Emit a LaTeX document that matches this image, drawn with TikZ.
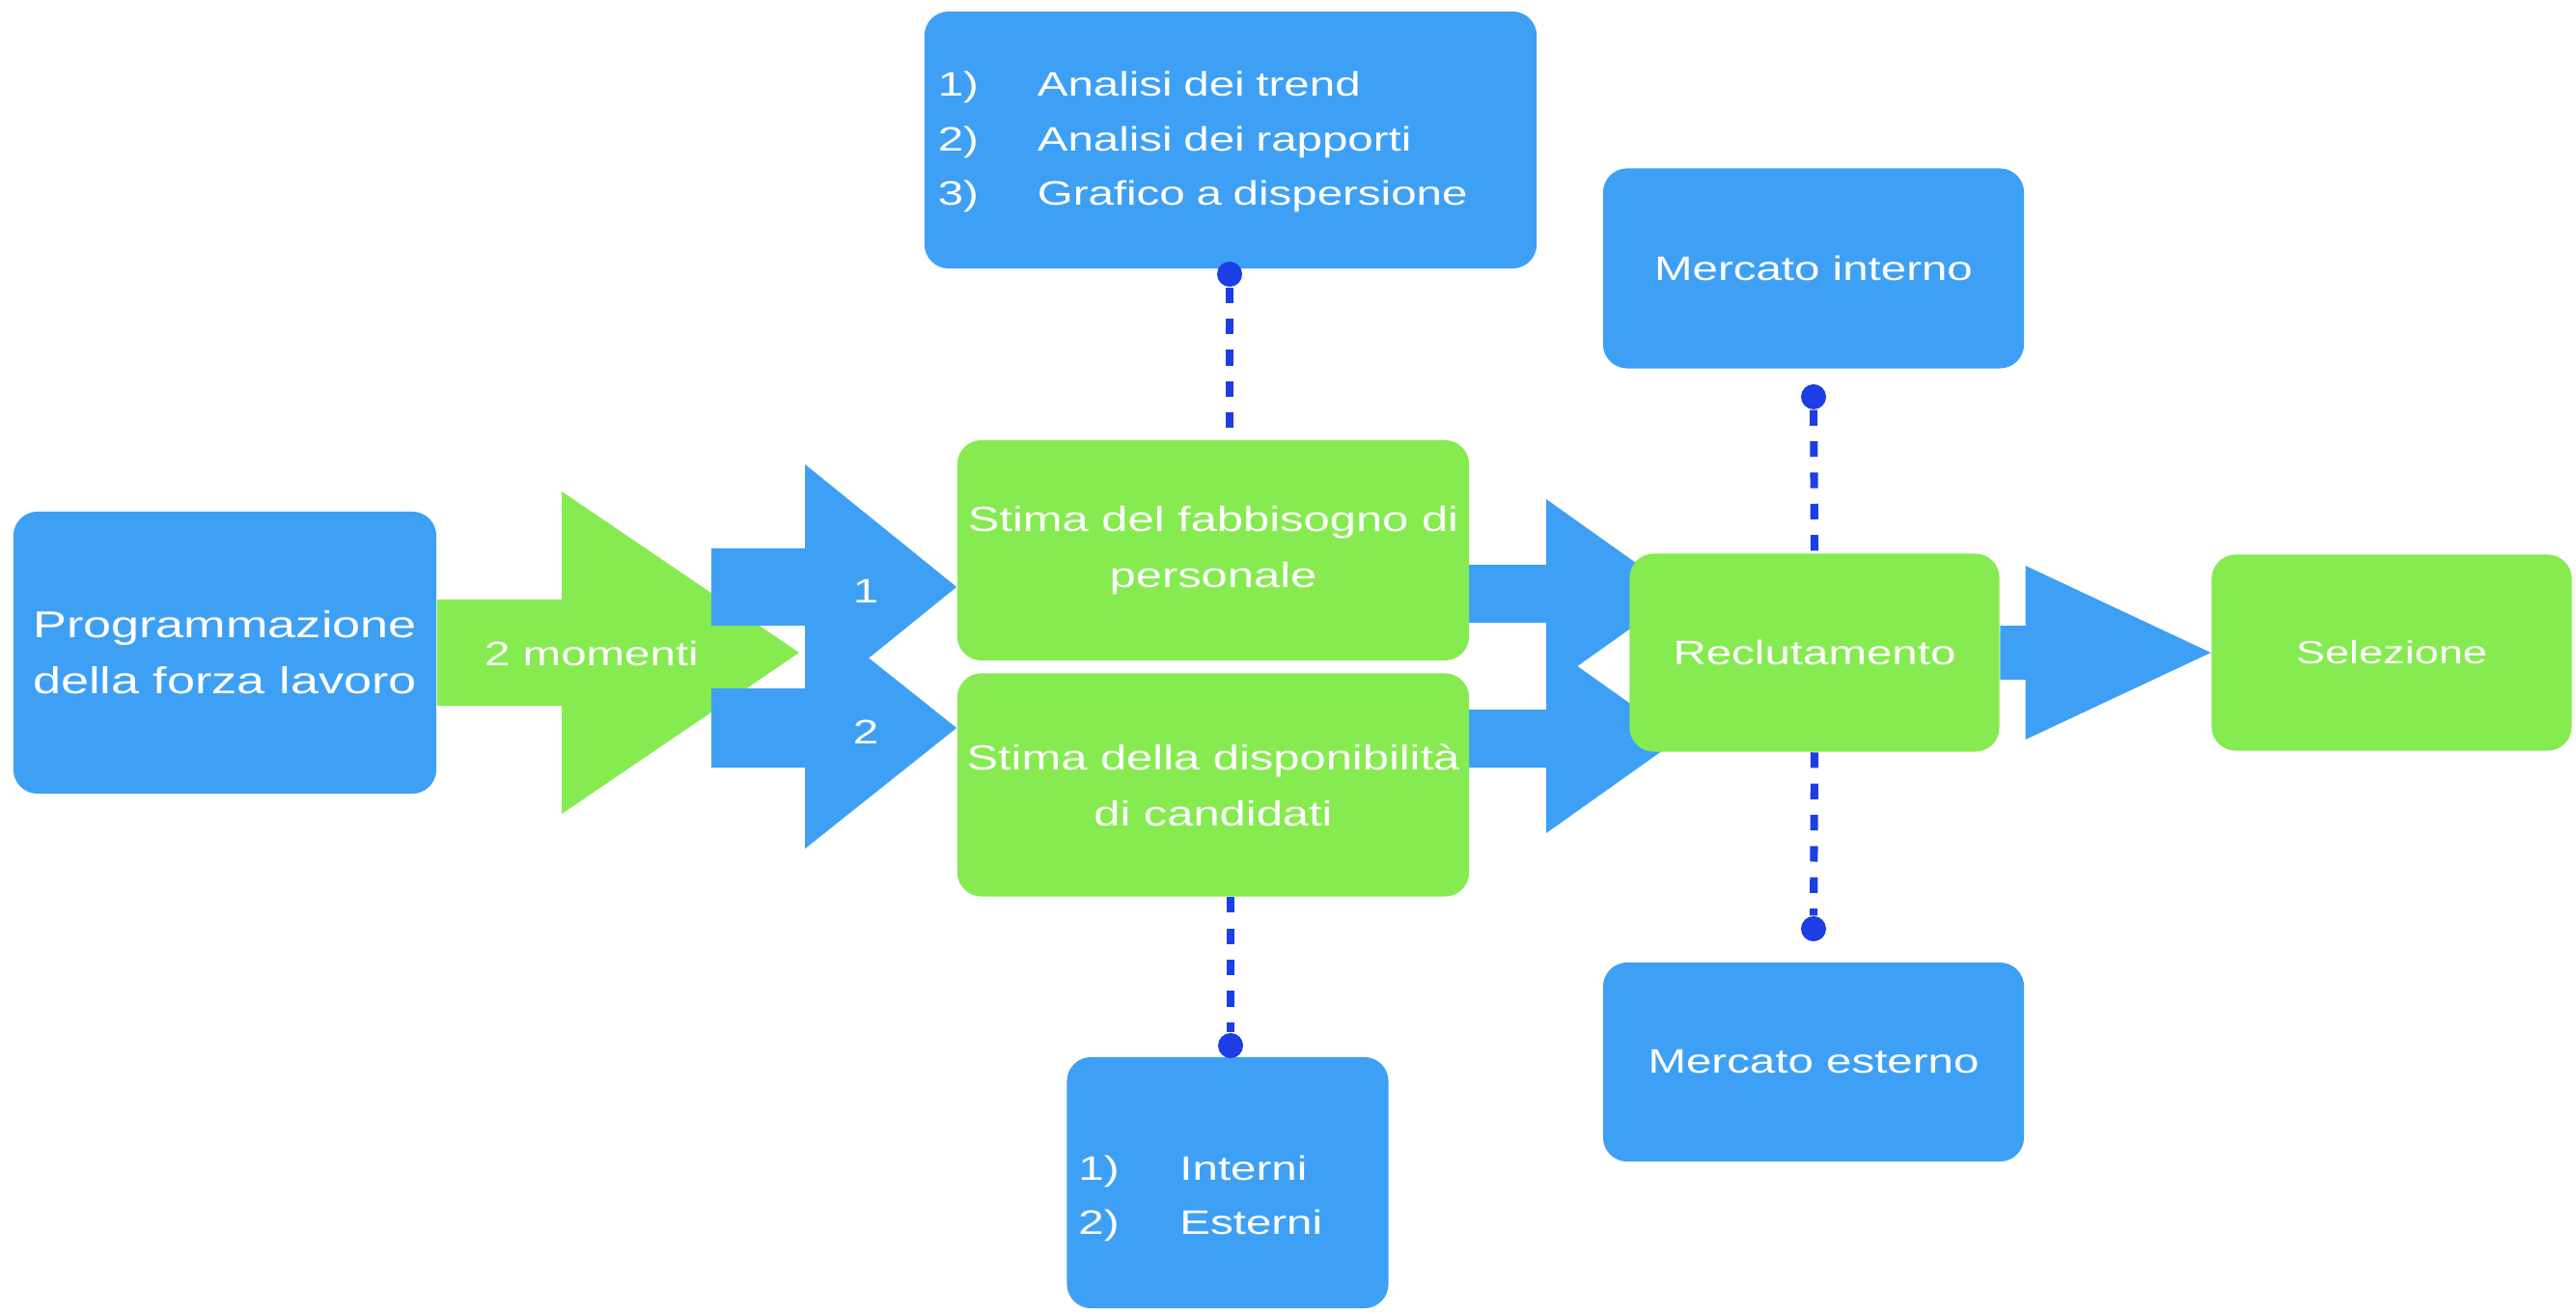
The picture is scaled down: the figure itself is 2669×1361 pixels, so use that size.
\documentclass[tikz,border=0pt]{standalone}
\usepackage{fontspec}
\setmainfont{Liberation Sans}[FakeStretch=1.35]
\usetikzlibrary{calc,backgrounds}

\definecolor{boxblue}{RGB}{62,160,245}
\definecolor{boxgreen}{RGB}{134,235,80}
\definecolor{dotblue}{RGB}{28,62,228}

% fat arrow: colour, start, tip, shaft half, head half, head length
\newcommand{\fatarrow}[6]{%
  \fill[#1] ($(#2)+(0,-#4)$) -- ($(#3)+(-#6,-#4)$) -- ($(#3)+(-#6,-#5)$) -- (#3)
    -- ($(#3)+(-#6,#5)$) -- ($(#3)+(-#6,#4)$) -- ($(#2)+(0,#4)$) -- cycle;}

\begin{document}
\begin{tikzpicture}[x=0.01cm, y=-0.01cm,
    bluebox/.style={fill=boxblue, rounded corners=0.25cm, text=white, align=center, inner sep=0pt, font=\fontsize{10}{16}\selectfont},
    greenbox/.style={fill=boxgreen, rounded corners=0.25cm, text=white, align=center, inner sep=0pt, font=\fontsize{10}{16.5}\selectfont},
    link/.style={dotblue, line width=2.3pt, dash pattern=on 4.6pt off 4.6pt},
    knob/.style={circle, fill=dotblue, inner sep=0pt, minimum size=0.26cm},
    lbl/.style={text=white, font=\fontsize{10}{16}\selectfont}]

    \useasboundingbox (0,0) rectangle (2669,1361);

    % Draw main boxes
    \node[bluebox, minimum width=4.38cm, minimum height=2.92cm, font=\fontsize{11}{16.5}\selectfont] (prog) at (233,676) {Programmazione\\della forza lavoro};
    \node[greenbox, minimum width=5.30cm, minimum height=2.28cm, font=\fontsize{10.3}{16.5}\selectfont] (stimaA) at (1257,570) {Stima del fabbisogno di\\personale};
    \node[greenbox, minimum width=5.30cm, minimum height=2.31cm, font=\fontsize{10.3}{16.5}\selectfont] (stimaB) at (1257,813) {Stima della disponibilità\\di candidati};
    \node[greenbox, minimum width=3.83cm, minimum height=2.05cm] (recl) at (1880,676) {Reclutamento};
    \node[greenbox, minimum width=3.73cm, minimum height=2.03cm, font=\fontsize{9.5}{16}\selectfont] (selez) at (2478,676) {Selezione};

    % Draw side boxes
    \node[bluebox, align=left, text width=6.06cm, inner xsep=0.14cm, minimum height=2.66cm] (analisi) at (1275,145)
        {\begin{tabular}{@{}p{1.03cm}@{}l@{}}1) & Analisi dei trend\\2) & Analisi dei rapporti\\3) & Grafico a dispersione\end{tabular}};
    \node[bluebox, align=left, text width=3.09cm, inner xsep=0.12cm, minimum height=2.60cm] (interni) at (1272,1225)
        {\begin{tabular}{@{}p{1.05cm}@{}l@{}}\\[-8pt]1) & Interni\\2) & Esterni\end{tabular}};
    \node[bluebox, minimum width=4.36cm, minimum height=2.07cm] (minterno) at (1879,278) {Mercato interno};
    \node[bluebox, minimum width=4.36cm, minimum height=2.06cm] (mesterno) at (1879,1100) {Mercato esterno};

    % Arrow ends
    \coordinate (gtip) at (828,676);
    \coordinate (a1) at (737,608);
    \coordinate (a2) at (737,754);
    \coordinate (b1) at (1522,615);
    \coordinate (b2) at (1522,765);
    \coordinate (bt1) at (1740,615);
    \coordinate (bt2) at (1740,765);

    % Draw fat arrows behind the boxes
    \begin{pgfonlayer}{background}
        \fatarrow{boxgreen}{prog.east}{gtip}{55}{167}{246}
        \fatarrow{boxblue}{a1}{stimaA.west |- a1}{40}{127}{157}
        \fatarrow{boxblue}{a2}{stimaB.west |- a2}{41}{125}{157}
        \fatarrow{boxblue}{b1}{bt1}{30}{98}{138}
        \fatarrow{boxblue}{b2}{bt2}{30}{98}{138}
        \fatarrow{boxblue}{recl.east}{selez.west}{28}{90}{192}
    \end{pgfonlayer}

    % Arrow labels
    \node[lbl] (mom) at (613,677) {2 momenti};
    \node[lbl] (uno) at (897,612) {1};
    \node[lbl] (due) at (897,758) {2};

    % Draw dotted links
    \node[knob] (k1) at (1274,284) {};
    \node[knob] (k2) at (1879,411) {};
    \node[knob] (k3) at (1879,962) {};
    \node[knob] (k4) at (1275,1083) {};
    \draw[link] (k1) -- (k1 |- stimaA.north);
    \draw[link] (k4 |- stimaB.south) -- (k4);
    \draw[link] (k2) -- (recl.north);
    \draw[link] (recl.south) -- (k3);
\end{tikzpicture}
\end{document}
